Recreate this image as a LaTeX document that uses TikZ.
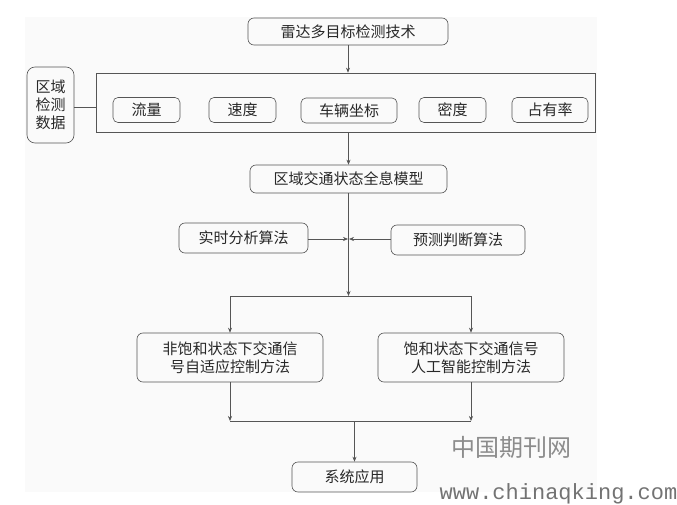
\documentclass[tikz,border=0pt]{standalone}
\usepackage{fontspec}
\setmainfont{Noto Sans CJK SC}
\newfontfamily\wmfont{Liberation Mono}
\usepackage{tikz}
\usetikzlibrary{calc,positioning,arrows.meta}
\definecolor{linegray}{RGB}{85,85,85}
\definecolor{textgray}{RGB}{40,40,40}
\definecolor{bggray}{RGB}{250,250,250}
\tikzset{
	>={Stealth[length=5pt,width=4pt]},
	every node/.style={text=textgray, font=\fontsize{15}{18}\selectfont},
	box/.style={draw=linegray, rounded corners=6pt, align=center, inner sep=0pt},
	inbox/.style={box, rounded corners=5pt, minimum height=25pt},
	frame/.style={draw=linegray, inner sep=0pt},
	link/.style={draw=linegray, line width=0.6pt},
}

\begin{document}
\begin{tikzpicture}[x=1pt, y=-1pt, line width=0.6pt]
	\useasboundingbox (0,0) rectangle (677,505);
	\fill[bggray] (25,17) rectangle (597,492);
	\node[box, minimum width=200pt, minimum height=27pt] (radar) at (348,31.5) {雷达多目标检测技术};
	\node[frame, minimum width=499pt, minimum height=59pt] (data) at (345.5,102.5) {};
	\node[box, rounded corners=8pt, minimum width=47pt, minimum height=76pt] (area) at (50.5,105) {区域\\检测\\数据};
	\node[inbox, minimum width=67pt] (flow) at (146.5,110) {流量};
	\node[inbox, minimum width=67pt] (speed) at (242.5,110) {速度};
	\node[inbox, minimum width=96pt] (coord) at (349,110.5) {车辆坐标};
	\node[inbox, minimum width=67pt] (density) at (452.5,110) {密度};
	\node[inbox, minimum width=76pt] (occupy) at (550,110) {占有率};
	\node[box, minimum width=197pt, minimum height=28pt] (model) at (348.5,179) {区域交通状态全息模型};
	\node[box, minimum width=129pt, minimum height=30pt] (realtime) at (243.5,238) {实时分析算法};
	\node[box, minimum width=134pt, minimum height=30pt] (predict) at (458,240) {预测判断算法};
	\node[box, minimum width=186pt, minimum height=49pt] (unsat) at (230,357.5) {非饱和状态下交通信\\号自适应控制方法};
	\node[box, minimum width=186pt, minimum height=49pt] (sat) at (471,357.5) {饱和状态下交通信号\\人工智能控制方法};
	\node[box, minimum width=125pt, minimum height=30pt] (apply) at (354.5,477) {系统应用};
	\node[text=black!45, font=\fontsize{24}{24}\selectfont] (wmcn) at (511,447) {中国期刊网};
	\node[text=black!55, font=\wmfont\fontsize{22}{22}\selectfont, inner sep=0pt] (wmurl) at (558.5,494) {www.chinaqking.com};
	\coordinate (meet) at (348.5,239);
	\coordinate (split) at (348.5,296);
	\coordinate (splitL) at (230,296);
	\coordinate (splitR) at (471,296);
	\coordinate (mergeL) at (230,421);
	\coordinate (mergeR) at (471,421);
	\coordinate (merge) at (354.5,421);
	\draw[link, ->] (radar.south) -- (radar.south |- data.north);
	\draw[link] (area.east |- 0,107) -- (data.west |- 0,107);
	\draw[link, ->] (model.north |- data.south) -- (model.north);
	\draw[link, ->] (model.south) -- (split);
	\draw[link, ->] (realtime.east |- meet) -- ([xshift=-0.5pt]meet);
	\draw[link, ->] (predict.west |- meet) -- ([xshift=0.5pt]meet);
	\draw[link] (splitL) -- (splitR);
	\draw[link, ->] (splitL) -- (unsat.north);
	\draw[link, ->] (splitR) -- (sat.north);
	\draw[link, ->] (unsat.south) -- (mergeL);
	\draw[link, ->] (sat.south) -- (mergeR);
	\draw[link] (mergeL) -- (mergeR);
	\draw[link, ->] (merge) -- (apply.north);
\end{tikzpicture}
\end{document}
